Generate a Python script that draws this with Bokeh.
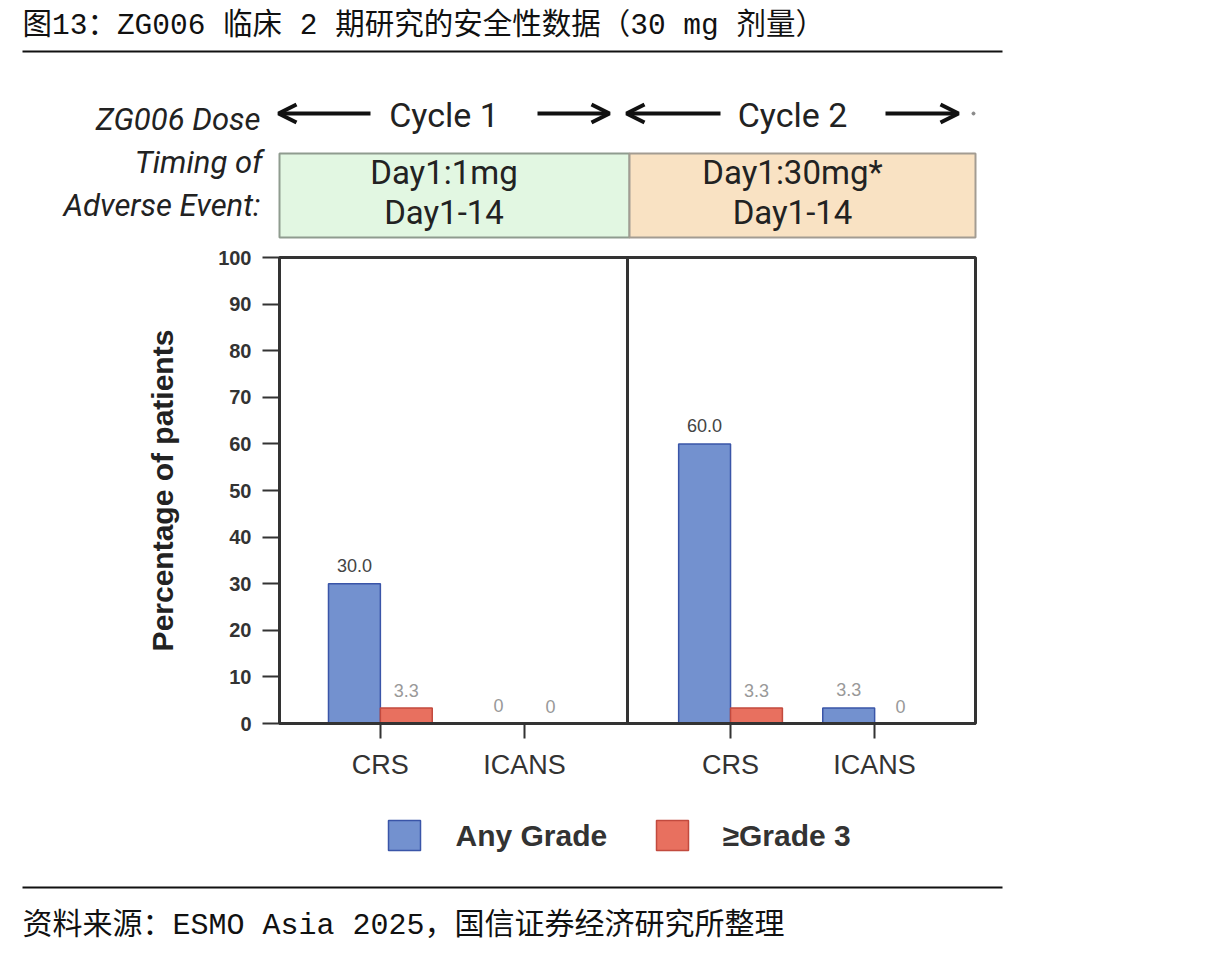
from bokeh.plotting import figure
from bokeh.layouts import column
from bokeh.models import (ColumnDataSource, FactorRange, Range1d, Arrow, OpenHead,
                          SingleIntervalTicker)
from bokeh.transform import dodge
from bokeh.core.properties import value
from bokeh.embed import file_html
from bokeh.resources import INLINE

# ---- data -------------------------------------------------------------
cycles = ["Cycle 1", "Cycle 2"]
events = ["CRS", "ICANS"]
any_grade = [30.0, 0.0, 60.0, 3.3]      # Any Grade, % of patients
grade3 = [3.3, 0.0, 3.3, 0.0]           # >=Grade 3, % of patients
series_names = ["Any Grade", "≥Grade 3"]
cycle_dose = ["Day1:1mg", "Day1:30mg*"]
cycle_window = ["Day1-14", "Day1-14"]

title_text = "图13：ZG006 临床 2 期研究的安全性数据（30 mg 剂量）"
source_text = "资料来源：ESMO Asia 2025，国信证券经济研究所整理"

CJK = value("Liberation Mono, Noto Sans CJK SC")
SANS = value("Liberation Sans")
HDR = value("Roboto")

BLUE_FILL, BLUE_LINE = "#7391cf", "#3a55a8"
RED_FILL, RED_LINE = "#e8705f", "#c24a3e"
W = 1217


def fmt(v):
    return "0" if v == 0 else f"{v:.1f}"


def canvas(height, y_top, y_bottom):
    f = figure(width=W, height=height, x_range=Range1d(0, W),
               y_range=Range1d(y_bottom, y_top), min_border=0,
               x_axis_location=None, y_axis_location=None,
               toolbar_location=None, output_backend="svg")
    f.grid.visible = False
    f.outline_line_color = None
    return f


# ---- heading block: title, dose cycles, AE timing boxes ----------------
top = canvas(240, 0, 240)
top.text(x=[22], y=[25], text=[title_text], text_font=CJK, text_font_size="29.5px",
         text_baseline="middle", text_align="left", text_color="#111")
top.segment(x0=[22], y0=[51], x1=[1002], y1=[51], line_width=2, line_color="#111")

top.text(x=[260, 262, 260], y=[119, 162, 205],
         text=["ZG006 Dose", "Timing of", "Adverse Event:"],
         text_font=HDR, text_font_style="italic", text_font_size="31px",
         text_align="right", text_baseline="middle", text_color="#222")

# dose-cycle arrows: (tail, head) pairs, one pair of arrows per cycle
arrows = [[(370, 278), (537, 609)], [(720, 626), (885, 958)]]
for pair in arrows:
    for xs, xe in pair:
        top.add_layout(Arrow(end=OpenHead(line_width=4, size=18, line_color="#111"),
                             x_start=xs, y_start=113, x_end=xe, y_end=113,
                             line_width=4, line_color="#111"))
cyc_mid = [(pair[0][1] + pair[1][1]) / 2 for pair in arrows]
top.scatter(x=[973], y=[113], size=3, color="#888")

box_left = [279, 629]
box_right = [629, 975]
top.quad(left=box_left, right=box_right, top=[153, 153], bottom=[237, 237],
         fill_color=["#e2f7e2", "#f9e2c3"], line_color=["#8f9c8f", "#a39c92"], line_width=2)
top.text(x=cyc_mid, y=[114, 114], text=cycles, text_font=HDR, text_font_size="34px",
         text_align="center", text_baseline="middle", text_color="#222")
top.text(x=cyc_mid, y=[172, 172], text=cycle_dose, text_font=HDR, text_font_size="33px",
         text_align="center", text_baseline="middle", text_color="#222")
top.text(x=cyc_mid, y=[212, 212], text=cycle_window, text_font=HDR, text_font_size="33px",
         text_align="center", text_baseline="middle", text_color="#222")

# ---- bar chart ----------------------------------------------------------
factors = [(c, e) for c in cycles for e in events]
gpad = 0.43
xr = FactorRange(*factors, factor_padding=0, group_padding=gpad,
                 range_padding=0.2, range_padding_units="absolute")

src = ColumnDataSource(dict(
    x=factors,
    any=any_grade,
    g3=grade3,
    any_lbl=[fmt(v) for v in any_grade],
    g3_lbl=[fmt(v) for v in grade3],
    any_col=["#444" if v >= 10 else "#999" for v in any_grade],
    g3_col=["#444" if v >= 10 else "#999" for v in grade3],
))

p = figure(width=W, height=565, x_range=xr, y_range=Range1d(0, 100),
           min_border_left=279, min_border_right=242, min_border_top=17,
           min_border_bottom=82, toolbar_location=None, output_backend="svg")
p.grid.visible = False
p.outline_line_color = "#333"
p.outline_line_width = 3

bw = 0.36
p.vbar(x=dodge("x", -bw / 2, range=xr), top="any", width=bw, source=src,
       fill_color=BLUE_FILL, line_color=BLUE_LINE, line_width=1.5)
p.vbar(x=dodge("x", bw / 2, range=xr), top="g3", width=bw, source=src,
       fill_color=RED_FILL, line_color=RED_LINE, line_width=1.5)
p.text(x=dodge("x", -bw / 2, range=xr), y="any", text="any_lbl", source=src,
       text_color="any_col", text_font=SANS, text_font_size="18px",
       text_align="center", text_baseline="bottom", y_offset=-12)
p.text(x=dodge("x", bw / 2, range=xr), y="g3", text="g3_lbl", source=src,
       text_color="g3_col", text_font=SANS, text_font_size="18px",
       text_align="center", text_baseline="bottom", y_offset=-11)

# divider between the two treatment cycles
div_src = ColumnDataSource(dict(x=[(cycles[0], events[-1])], y0=[0], y1=[100]))
p.segment(x0=dodge("x", (1 + gpad) / 2, range=xr), x1=dodge("x", (1 + gpad) / 2, range=xr),
          y0="y0", y1="y1", source=div_src, line_width=3, line_color="#333")

ya = p.yaxis[0]
ya.ticker = SingleIntervalTicker(interval=10)
ya.minor_tick_line_color = None
ya.major_tick_in = 0
ya.major_tick_out = 17
ya.major_tick_line_width = 2
ya.major_tick_line_color = "#333"
ya.axis_line_width = 3
ya.axis_line_color = "#333"
ya.major_label_text_font = "Liberation Sans"
ya.major_label_text_font_size = "20px"
ya.major_label_text_font_style = "bold"
ya.major_label_text_color = "#333"
ya.major_label_standoff = 11
ya.axis_label = "Percentage of patients"
ya.axis_label_text_font = "Liberation Sans"
ya.axis_label_text_font_size = "30px"
ya.axis_label_text_font_style = "bold"
ya.axis_label_text_color = "#222"
ya.axis_label_standoff = 36

xa = p.xaxis[0]
xa.major_tick_in = 0
xa.major_tick_out = 15
xa.major_tick_line_width = 2
xa.major_tick_line_color = "#333"
xa.axis_line_width = 3
xa.axis_line_color = "#333"
xa.major_label_text_font = "Liberation Sans"
xa.major_label_text_font_size = "27px"
xa.major_label_text_color = "#333"
xa.major_label_standoff = 11
xa.group_text_font_size = "2px"
xa.group_text_alpha = 0
xa.separator_line_alpha = 0

# ---- legend and source note ---------------------------------------------
bot = canvas(150, 805, 955)
sw_left = [388, 656]
bot.quad(left=sw_left, right=[x + 32 for x in sw_left], top=[820, 820], bottom=[850, 850],
         fill_color=[BLUE_FILL, RED_FILL], line_color=[BLUE_LINE, RED_LINE], line_width=1.5)
bot.text(x=[455, 722], y=[835, 835], text=series_names, text_font=SANS,
         text_font_size="30px", text_font_style="bold", text_color="#333",
         text_align="left", text_baseline="middle")
bot.segment(x0=[22], y0=[887], x1=[1002], y1=[887], line_width=2, line_color="#111")
bot.text(x=[22], y=[925], text=[source_text], text_font=CJK, text_font_size="30px",
         text_baseline="middle", text_align="left", text_color="#111")

# the chart sits in its own column so the page-wide canvases keep their full frames
layout = column(top, column(p, spacing=0), bot, spacing=0)
open("out.html", "w").write(file_html(layout, INLINE))
